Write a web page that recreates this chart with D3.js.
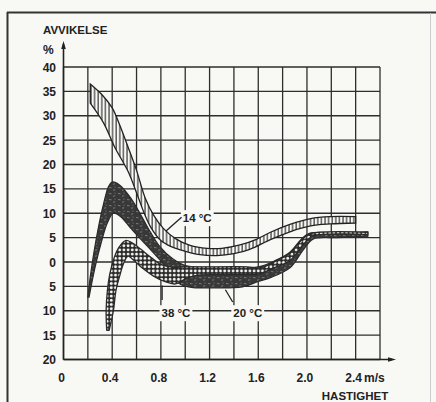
<!DOCTYPE html>
<html>
<head>
<meta charset="utf-8">
<script src="https://cdn.jsdelivr.net/npm/d3@7/dist/d3.min.js"></script>
<style>
  html, body { margin: 0; padding: 0; background: #f8f8f5; }
  svg { display: block; }
  text { font-family: "Liberation Sans", Arial, sans-serif; font-weight: bold; fill: #222; }
</style>
</head>
<body>
<svg id="chart" width="436" height="402"></svg>
<script>
// Tick values (speed in m/s, deviation in %)
const xTicks = [0, 0.4, 0.8, 1.2, 1.6, 2.0, 2.4];
const xGrid = [0, 0.2, 0.4, 0.6, 0.8, 1.0, 1.2, 1.4, 1.6, 1.8, 2.0, 2.2, 2.4, 2.6];
const yTicks = [40, 35, 30, 25, 20, 15, 10, 5, 0, -5, -10, -15, -20];

// Band at 14 °C (vertical hatching): upper and lower edges [speed, deviation]
const band14Upper = [[0.22,36.5],[0.32,34.2],[0.4,31.6],[0.46,28.2],[0.53,23.6],[0.6,18.8],[0.67,13.2],[0.74,9.6],[0.82,6.9],[0.92,4.8],[1.04,3.4],[1.18,2.8],[1.3,2.8],[1.45,3.5],[1.58,4.6],[1.7,6.1],[1.86,7.7],[2.03,8.9],[2.19,9.3],[2.4,9.3]];
const band14Lower = [[0.22,32.6],[0.33,28.5],[0.42,23.6],[0.53,18.6],[0.6,14.2],[0.66,10.2],[0.72,7.0],[0.8,4.4],[0.88,3.2],[0.96,2.5],[1.12,1.5],[1.26,1.3],[1.4,1.7],[1.53,2.6],[1.7,4.6],[1.86,6.2],[2.03,7.4],[2.19,7.8],[2.4,8.0]];

// Band at 20 °C (dark shading)
const band20Upper = [[0.2,-7.2],[0.22,-3],[0.25,2],[0.29,7.5],[0.33,12],[0.37,15.5],[0.4,16.4],[0.46,15.8],[0.55,13.2],[0.63,9.9],[0.71,6.3],[0.79,3.2],[0.9,0.6],[1.01,-0.8],[1.18,-1.1],[1.4,-1.0],[1.6,-1.0],[1.74,0.3],[1.86,2.0],[1.95,4.6],[2.02,5.9],[2.25,6.0],[2.5,6.2]];
const band20Lower = [[0.21,-7.2],[0.26,-1],[0.31,4],[0.36,8],[0.41,10],[0.47,9.3],[0.55,7.0],[0.63,4.8],[0.72,2.4],[0.8,0.2],[0.88,-2.3],[0.95,-4.4],[1.05,-5.2],[1.2,-5.3],[1.47,-5.1],[1.6,-4.0],[1.7,-3.2],[1.86,-1.2],[1.97,2.5],[2.05,4.7],[2.25,5.0],[2.5,5.2]];

// Band at 38 °C (white rings)
const band38Upper = [[0.355,-14],[0.35,-10],[0.36,-6],[0.38,-2.5],[0.415,0.8],[0.455,3.0],[0.51,4.4],[0.56,4.0],[0.63,2.7],[0.72,0.9],[0.8,-0.5],[0.9,-1.1],[1.0,-1.0],[1.2,-1.0],[1.5,-1.0],[1.62,-1.2],[1.74,0.1],[1.86,1.8],[1.96,4.6],[2.03,5.8],[2.5,6.1]];
const band38Lower = [[0.375,-14],[0.41,-10],[0.43,-6],[0.46,-3],[0.495,-0.2],[0.53,1.2],[0.57,0.5],[0.65,-1.3],[0.74,-2.9],[0.83,-4.0],[0.92,-4.5],[1.0,-3.5],[1.1,-2.7],[1.3,-2.6],[1.5,-2.6],[1.6,-2.5],[1.72,-1.3],[1.86,0.3],[1.97,3.6],[2.05,5.3],[2.5,5.6]];

// Curve labels: text, anchor point, leader from / to (data units)
const labels = [
  { text: "14 °C", at: [0.98, 9.0], from: [0.84, 6.3], to: [0.97, 9.2] },
  { text: "38 °C", at: [0.805, -10.5], from: [0.81, -4.8], to: [0.81, -7.8] },
  { text: "20 °C", at: [1.395, -10.5], from: [1.33, -5.7], to: [1.39, -8.2] }
];

const svg = d3.select("#chart");
const x = d3.scaleLinear().domain([0, 2.6]).range([63.5, 380]);
const y = d3.scaleLinear().domain([-20, 40]).range([359.5, 67]);

// page frame
svg.append("line").attr("x1", 7.5).attr("x2", 7.5).attr("y1", 12).attr("y2", 402)
  .attr("stroke", "#333").attr("stroke-width", 2);
svg.append("line").attr("x1", 7).attr("x2", 436).attr("y1", 12.5).attr("y2", 12.5)
  .attr("stroke", "#333").attr("stroke-width", 2);
svg.append("line").attr("x1", 430.5).attr("x2", 430.5).attr("y1", 13).attr("y2", 402)
  .attr("stroke", "#ccc").attr("stroke-width", 1);

const defs = svg.append("defs");
// vertical hatching
const ph = defs.append("pattern").attr("id", "hatch").attr("patternUnits", "userSpaceOnUse")
  .attr("width", 3.6).attr("height", 6);
ph.append("rect").attr("width", 3.6).attr("height", 6).attr("fill", "#f8f8f5");
ph.append("line").attr("x1", 1).attr("x2", 1).attr("y1", 0).attr("y2", 6)
  .attr("stroke", "#222").attr("stroke-width", 1.1);
// dark mottled shading
const pd = defs.append("pattern").attr("id", "dark").attr("patternUnits", "userSpaceOnUse")
  .attr("width", 9).attr("height", 6);
pd.append("rect").attr("width", 9).attr("height", 6).attr("fill", "#383838");
pd.append("path").attr("d", "M1,1.5 l2.5,0.3 M5,4.2 l2.2,-0.4 M6.5,1 l1,0.2")
  .attr("stroke", "#8c8c8c").attr("stroke-width", 0.8).attr("fill", "none");
// rings
const pr = defs.append("pattern").attr("id", "rings").attr("patternUnits", "userSpaceOnUse")
  .attr("width", 4.2).attr("height", 4.2);
pr.append("rect").attr("width", 4.2).attr("height", 4.2).attr("fill", "#2a2a2a");
pr.append("circle").attr("cx", 2.1).attr("cy", 2.1).attr("r", 1.45).attr("fill", "#f4f4f1");

// grid
const grid = svg.append("g").attr("stroke", "#2e2e2e").attr("stroke-width", 1.3);
grid.selectAll("line.v").data(xGrid).join("line").attr("class", "v")
  .attr("x1", d => x(d)).attr("x2", d => x(d)).attr("y1", y(40)).attr("y2", y(-20));
grid.selectAll("line.h").data(yTicks).join("line").attr("class", "h")
  .attr("x1", x(0)).attr("x2", x(2.6)).attr("y1", d => y(d)).attr("y2", d => y(d));

// axes with arrows
svg.append("line").attr("x1", x(0)).attr("x2", x(0)).attr("y1", y(-20)).attr("y2", 44)
  .attr("stroke", "#222").attr("stroke-width", 1.6);
svg.append("path").attr("d", `M${x(0)-2.3},49 L${x(0)},41 L${x(0)+2.3},49 Z`).attr("fill", "#222");
svg.append("line").attr("x1", x(0)).attr("x2", 392).attr("y1", y(-20)).attr("y2", y(-20))
  .attr("stroke", "#222").attr("stroke-width", 1.6);
svg.append("path").attr("d", `M388,${y(-20)-2.3} L396,${y(-20)} L388,${y(-20)+2.3} Z`).attr("fill", "#222");

// bands
const edge = d3.line().x(d => x(d[0])).y(d => y(d[1])).curve(d3.curveCatmullRom.alpha(0.5));
function bandPath(upper, lower) {
  const top = edge(upper);
  const bottom = edge(lower.slice().reverse()).replace(/^M/, "L");
  return top + bottom + "Z";
}
const bands = svg.append("g");
bands.append("path").attr("d", bandPath(band20Upper, band20Lower))
  .attr("fill", "url(#dark)").attr("stroke", "#2a2a2a").attr("stroke-width", 1.2);
bands.append("path").attr("d", bandPath(band38Upper, band38Lower))
  .attr("fill", "url(#rings)").attr("stroke", "#2a2a2a").attr("stroke-width", 1.3)
  .attr("stroke-linejoin", "round");
bands.append("path").attr("d", bandPath(band14Upper, band14Lower))
  .attr("fill", "url(#hatch)").attr("stroke", "#222").attr("stroke-width", 1.3);

// curve labels
const lab = svg.append("g");
labels.forEach(l => {
  const t = lab.append("text").attr("x", x(l.at[0])).attr("y", y(l.at[1]) + 4)
    .attr("font-size", 11.5).text(l.text);
  const bb = t.node().getBBox();
  lab.insert("rect", "text").attr("x", bb.x - 2).attr("y", bb.y - 2)
    .attr("width", bb.width + 4).attr("height", bb.height + 4).attr("fill", "#f8f8f5");
  lab.append("line").attr("x1", x(l.from[0])).attr("y1", y(l.from[1]))
    .attr("x2", x(l.to[0])).attr("y2", y(l.to[1])).attr("stroke", "#222").attr("stroke-width", 1.3);
});

// tick labels
svg.selectAll("text.yt").data(yTicks).join("text").attr("class", "yt")
  .attr("x", 56).attr("y", d => y(d) + 4.5).attr("text-anchor", "end")
  .attr("font-size", 12).text(d => Math.abs(d));
svg.selectAll("text.xt").data(xTicks).join("text").attr("class", "xt")
  .attr("x", d => x(d) - 2).attr("y", 382).attr("text-anchor", "middle")
  .attr("font-size", 12).text(d => d === 0 ? "0" : d.toFixed(1));

// axis titles
svg.append("text").attr("x", 364).attr("y", 382).attr("font-size", 12).text("m/s");
svg.append("text").attr("x", 43).attr("y", 34).attr("font-size", 11.5).text("AVVIKELSE");
svg.append("text").attr("x", 43).attr("y", 54).attr("font-size", 12).text("%");
svg.append("text").attr("x", 355).attr("y", 400).attr("text-anchor", "middle")
  .attr("font-size", 11.5).text("HASTIGHET");
</script>
</body>
</html>
